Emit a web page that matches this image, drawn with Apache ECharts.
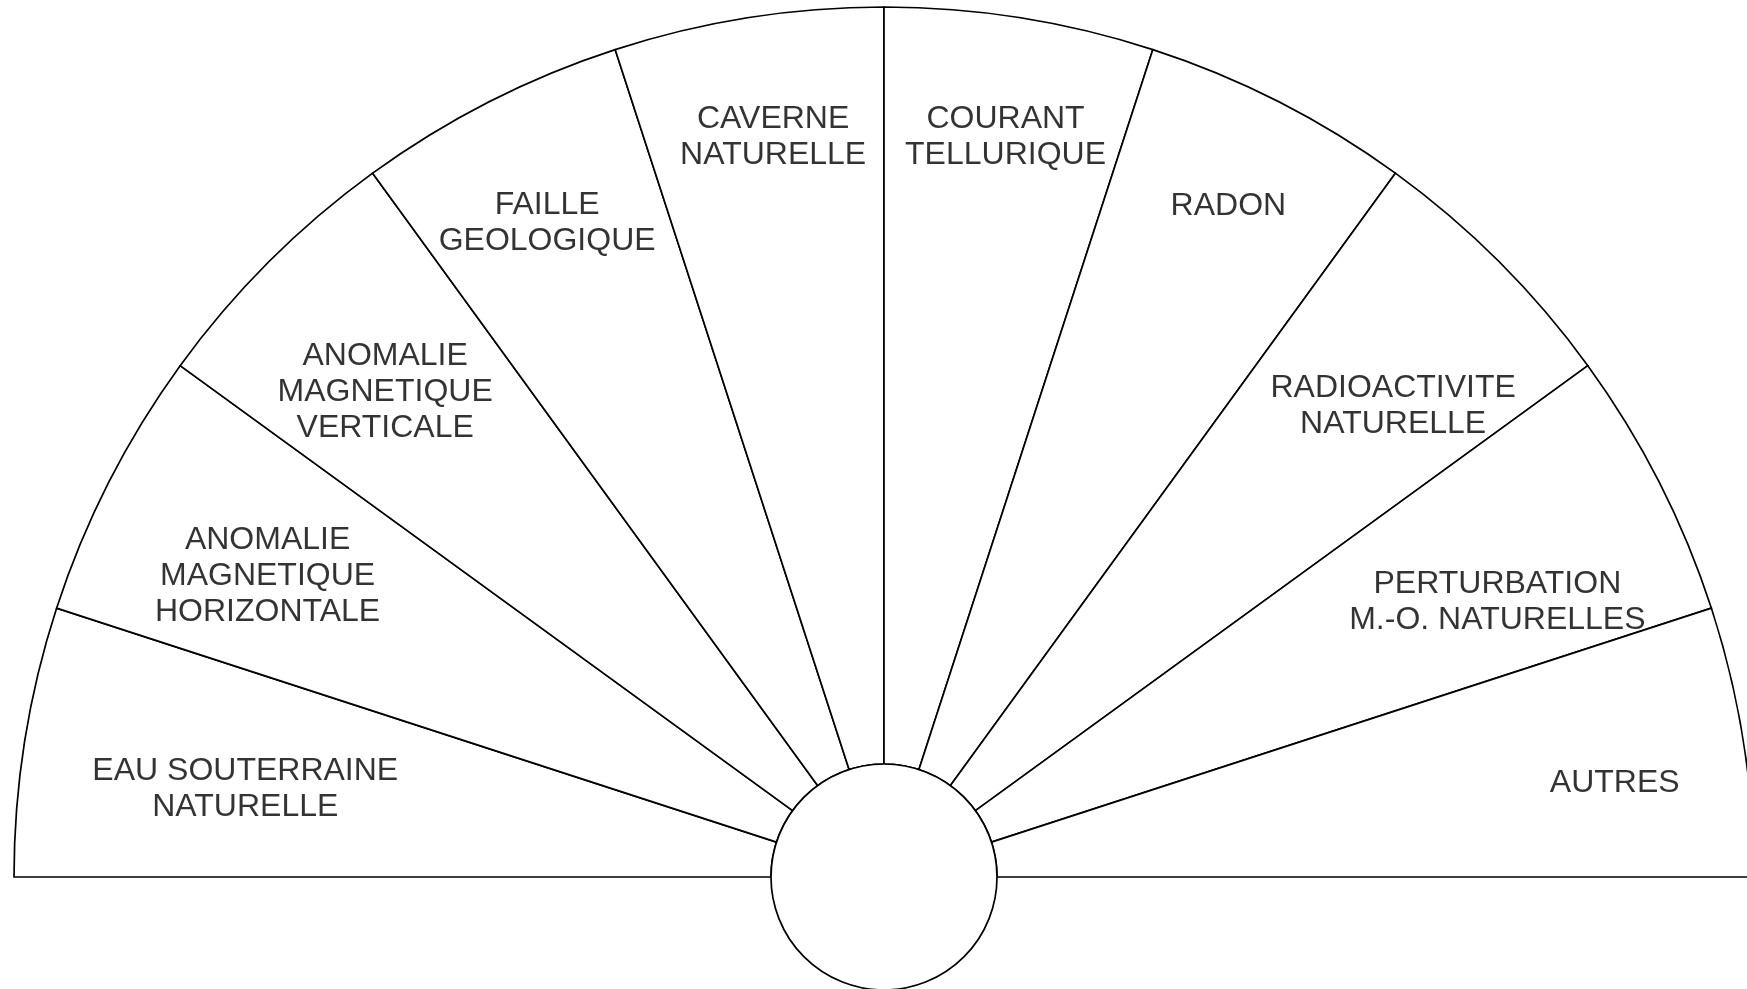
<!doctype html>
<html>
<head>
<meta charset="utf-8">
<script src="https://cdn.jsdelivr.net/npm/echarts@6/dist/echarts.min.js"></script>
<style>
	html, body { margin: 0; padding: 0; background: #fff; }
	#dial { width: 1747px; height: 989px; }
</style>
<title>Cadran</title>
</head>
<body>

<div id="dial"></div>

<script>
// secteurs du cadran, de gauche a droite
var categories = [
	'EAU SOUTERRAINE\nNATURELLE',
	'ANOMALIE\nMAGNETIQUE\nHORIZONTALE',
	'ANOMALIE\nMAGNETIQUE\nVERTICALE',
	'FAILLE\nGEOLOGIQUE',
	'CAVERNE\nNATURELLE',
	'COURANT\nTELLURIQUE',
	'RADON',
	'RADIOACTIVITE\nNATURELLE',
	'PERTURBATION\nM.-O. NATURELLES',
	'AUTRES'
]
// chaque secteur a le meme poids
var sectorValues = [1, 1, 1, 1, 1, 1, 1, 1, 1, 1]
// ou tombe le texte dans chaque secteur (rayon en px, angle en degres depuis la gauche)
var labelRadius = [645, 687, 697, 737, 750, 752, 756, 695, 673, 737]
var labelAngle = [8.0, 26.2, 44.3, 62.8, 81.5, 99.3, 117.1, 137.1, 155.7, 172.5]

var cx = 884, cy = 877, R = 870, r0 = 113
var lineColor = '#000'
var lineW = 1.7

var pieData = sectorValues.map(function(v, i) {
	return { name: categories[i], value: v }
})
// moitie basse invisible
var total = sectorValues.reduce(function(a, b) { return a + b }, 0)
pieData.push({
	name: '',
	value: total,
	itemStyle: { color: 'rgba(0,0,0,0)', borderWidth: 0 }
})

var labelData = categories.map(function(c, i) {
	return { name: c, value: [labelRadius[i], labelAngle[i]] }
})

var chart = echarts.init(document.getElementById('dial'), null, { renderer: 'canvas' })

chart.setOption({
	backgroundColor: '#fff',
	animation: false,
	polar: { center: [cx, cy], radius: R },
	angleAxis: {
		type: 'value', min: 0, max: 360, startAngle: 180, clockwise: true,
		show: false
	},
	radiusAxis: { type: 'value', min: 0, max: R, show: false },
	series: [
		{
			type: 'pie',
			center: [cx, cy],
			radius: [r0, R],
			startAngle: 180,
			clockwise: true,
			silent: true,
			z: 1,
			label: { show: false },
			labelLine: { show: false },
			itemStyle: { color: '#fff', borderColor: lineColor, borderWidth: lineW },
			emphasis: { disabled: true },
			data: pieData
		},
		{
			type: 'pie',
			center: [cx, cy],
			radius: [0, r0],
			silent: true,
			z: 2,
			label: { show: false },
			labelLine: { show: false },
			itemStyle: { color: '#fff', borderColor: lineColor, borderWidth: lineW },
			emphasis: { disabled: true },
			data: [{ name: 'centre', value: 1 }]
		},
		{
			type: 'scatter',
			coordinateSystem: 'polar',
			symbolSize: 0,
			silent: true,
			z: 3,
			label: {
				show: true,
				position: 'inside',
				offset: [0, 2],
				formatter: function(p) { return p.name },
				color: '#000',
				textBorderWidth: 0,
				fontFamily: '"Liberation Sans", Arial, Helvetica, sans-serif',
				fontSize: 32,
				lineHeight: 36,
				align: 'center',
				verticalAlign: 'middle'
			},
			data: labelData
		}
	]
})
</script>

</body>
</html>
